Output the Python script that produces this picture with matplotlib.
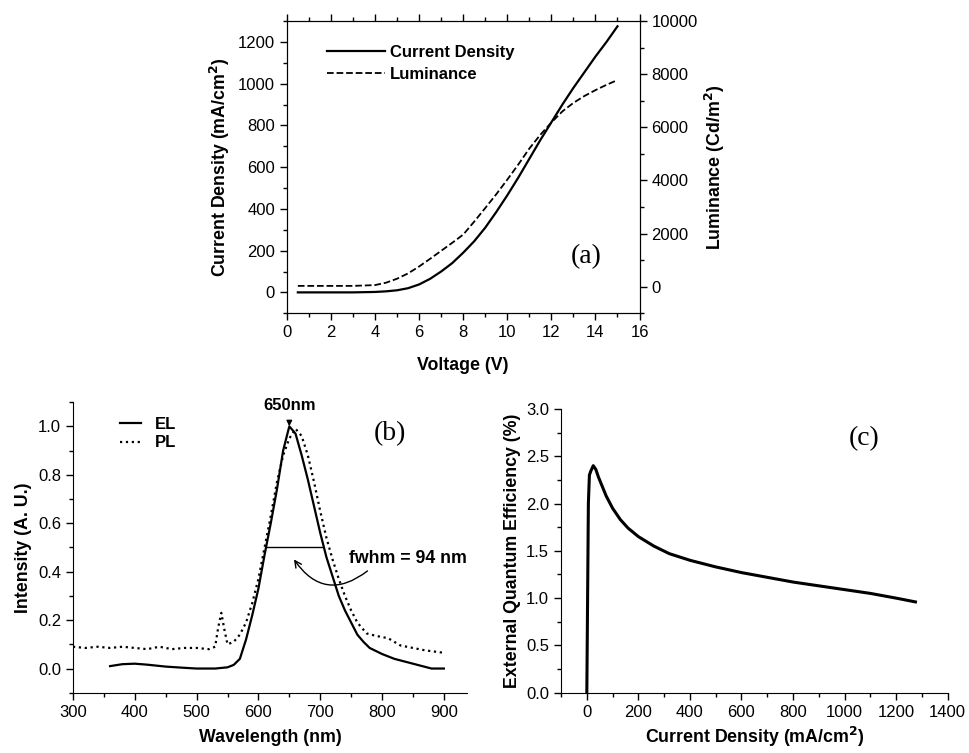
import matplotlib
matplotlib.use("Agg")
import matplotlib.pyplot as plt
from matplotlib.ticker import MultipleLocator
import numpy as np

plt.rcParams['font.family'] = ['Liberation Sans', 'DejaVu Sans']
plt.rcParams['font.size'] = 12
plt.rcParams['axes.labelsize'] = 12.8

# ---- Panel (a) data ----
voltage = [0.5, 1, 2, 3, 4, 4.5, 5, 5.5, 6, 6.5, 7, 7.5, 8, 8.5, 9, 9.5, 10, 10.5, 11, 11.5, 12, 12.5, 13, 13.5, 14, 14.5, 15]
current_density = [0, 0, 0, 0, 2, 5, 10, 20, 38, 65, 100, 140, 190, 245, 310, 385, 465, 550, 640, 730, 815, 900, 980, 1055, 1130, 1200, 1275]
luminance = [30, 30, 30, 30, 60, 150, 300, 500, 760, 1050, 1350, 1650, 1960, 2450, 2960, 3480, 4030, 4600, 5200, 5720, 6180, 6600, 6920, 7180, 7400, 7600, 7780]

# ---- Panel (b) data ----
el_wl = [360, 380, 400, 420, 450, 480, 500, 530, 550, 560, 570, 580, 590, 600, 610, 620, 630, 640, 650, 660, 670, 680, 690, 700, 710, 720, 730, 740, 750, 760, 770, 780, 800, 820, 850, 880, 900]
el_int = [0.01, 0.018, 0.02, 0.016, 0.008, 0.003, 0.0, 0.0, 0.005, 0.015, 0.04, 0.12, 0.22, 0.33, 0.47, 0.6, 0.74, 0.9, 1.0, 0.97, 0.88, 0.78, 0.67, 0.56, 0.46, 0.38, 0.3, 0.24, 0.19, 0.14, 0.11, 0.085, 0.06, 0.04, 0.02, 0.0, 0.0]
pl_wl = [300, 320, 340, 360, 380, 400, 420, 440, 460, 480, 500, 520, 530, 535, 540, 545, 550, 560, 570, 580, 590, 600, 610, 620, 630, 640, 650, 660, 670, 680, 690, 700, 710, 720, 730, 740, 750, 760, 775, 790, 810, 830, 850, 870, 900]
pl_int = [0.09, 0.085, 0.09, 0.085, 0.09, 0.085, 0.08, 0.09, 0.08, 0.085, 0.085, 0.08, 0.09, 0.17, 0.23, 0.16, 0.10, 0.11, 0.14, 0.19, 0.27, 0.37, 0.5, 0.63, 0.77, 0.88, 0.95, 0.99, 0.96, 0.88, 0.77, 0.65, 0.54, 0.45, 0.37, 0.3, 0.24, 0.19, 0.145, 0.135, 0.125, 0.095, 0.085, 0.075, 0.065]

# ---- Panel (c) data ----
cd_c = [0, 3, 6, 10, 15, 25, 35, 45, 60, 75, 100, 130, 160, 200, 260, 320, 400, 500, 600, 700, 800, 900, 1000, 1100, 1200, 1275]
eqe = [0.0, 1.0, 2.0, 2.3, 2.34, 2.4, 2.36, 2.28, 2.18, 2.08, 1.95, 1.83, 1.74, 1.65, 1.55, 1.47, 1.4, 1.33, 1.27, 1.22, 1.17, 1.13, 1.09, 1.05, 1.0, 0.96]

fig = plt.figure(figsize=(9.69, 7.53), dpi=100)

def style(ax):
    ax.tick_params(which='both', direction='out', labelsize=12)
    ax.tick_params(which='major', length=5, width=1)
    ax.tick_params(which='minor', length=3, width=1)

# Panel (a)
axa = fig.add_axes([0.296, 0.584, 0.364, 0.388])
la, = axa.plot(voltage, current_density, 'k-', lw=1.6, label='Current Density')
axa.set_xlim(0, 16)
axa.set_ylim(-100, 1300)
axa.xaxis.set_major_locator(MultipleLocator(2))
axa.xaxis.set_minor_locator(MultipleLocator(1))
axa.yaxis.set_major_locator(MultipleLocator(200))
axa.yaxis.set_minor_locator(MultipleLocator(100))
style(axa)
axa.tick_params(which='both', top=True)
axa.set_xlabel('Voltage (V)', fontweight='bold', labelpad=12)
axa.set_ylabel('Current Density (mA/cm$^\\mathbf{2}$)', fontweight='bold')
axb2 = axa.twinx()
lb, = axb2.plot(voltage, luminance, 'k--', lw=1.3, label='Luminance')
axb2.set_ylim(-1000, 10000)
axb2.yaxis.set_major_locator(MultipleLocator(2000))
axb2.yaxis.set_minor_locator(MultipleLocator(1000))
style(axb2)
axb2.set_ylabel('Luminance (Cd/m$^\\mathbf{2}$)', fontweight='bold')
leg = axa.legend(handles=[la, lb], loc='upper left', frameon=False, prop={'weight': 'bold', 'size': 12},
                 bbox_to_anchor=(0.07, 0.97), handlelength=3.5, handletextpad=0.3, labelspacing=0.4)
axa.text(13.6, 170, '(a)', family='Liberation Serif', fontsize=20, ha='center', va='center')

# Panel (b)
axb = fig.add_axes([0.0753, 0.080, 0.407, 0.386])
l1, = axb.plot(el_wl, el_int, 'k-', lw=1.6, label='EL')
l2, = axb.plot(pl_wl, pl_int, 'k:', lw=1.6, label='PL')
axb.set_xlim(300, 938)
axb.set_ylim(-0.1, 1.1)
axb.xaxis.set_major_locator(MultipleLocator(100))
axb.xaxis.set_minor_locator(MultipleLocator(50))
axb.yaxis.set_major_locator(MultipleLocator(0.2))
axb.yaxis.set_minor_locator(MultipleLocator(0.1))
axb.spines['top'].set_visible(False)
axb.spines['right'].set_visible(False)
style(axb)
axb.set_xlabel('Wavelength (nm)', fontweight='bold', labelpad=7)
axb.set_ylabel('Intensity (A. U.)', fontweight='bold')
axb.legend(handles=[l1, l2], loc='upper left', frameon=False, prop={'weight': 'bold', 'size': 12},
           handlelength=1.3, handletextpad=0.8, labelspacing=0.2, bbox_to_anchor=(0.08, 1.0))
axb.annotate('650nm', xy=(650, 1.0), xytext=(650, 1.085), ha='center', va='center', fontweight='bold',
             arrowprops=dict(arrowstyle='-|>', color='k', lw=1, shrinkA=4, shrinkB=0, mutation_scale=8))
axb.plot([612, 705], [0.5, 0.5], 'k-', lw=1)
axb.text(746, 0.455, 'fwhm = 94 nm', fontweight='bold', fontsize=12.8, ha='left', va='center')
axb.annotate('', xy=(655, 0.46), xytext=(780, 0.41),
             arrowprops=dict(arrowstyle='->', color='k', lw=1, connectionstyle='arc3,rad=-0.55'))
axb.text(812, 0.97, '(b)', family='Liberation Serif', fontsize=20, ha='center', va='center')

# Panel (c)
axc = fig.add_axes([0.579, 0.080, 0.399, 0.377])
axc.plot(cd_c, eqe, 'k-', lw=2.2)
axc.set_xlim(-100, 1400)
axc.set_ylim(0, 3.0)
axc.xaxis.set_major_locator(MultipleLocator(200))
axc.xaxis.set_minor_locator(MultipleLocator(100))
axc.yaxis.set_major_locator(MultipleLocator(0.5))
axc.yaxis.set_minor_locator(MultipleLocator(0.25))
axc.spines['top'].set_visible(False)
axc.spines['right'].set_visible(False)
style(axc)
axc.set_xlabel('Current Density (mA/cm$^\\mathbf{2}$)', fontweight='bold', labelpad=4)
axc.set_ylabel('External Quantum Efficiency (%)', fontweight='bold')
axc.text(1077, 2.69, '(c)', family='Liberation Serif', fontsize=20, ha='center', va='center')

fig.savefig('out.png', dpi=100)
